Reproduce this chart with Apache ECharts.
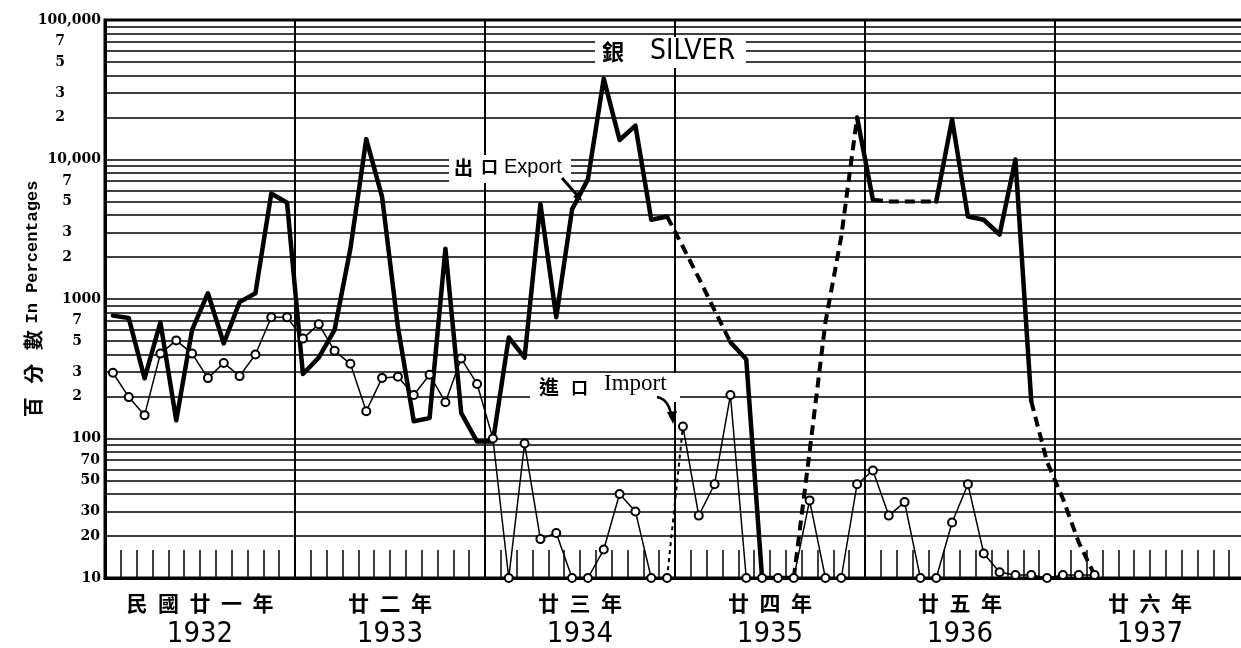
<!DOCTYPE html>
<html>
<head>
<meta charset="utf-8">
<script src="https://cdn.jsdelivr.net/npm/echarts@6/dist/echarts.min.js"></script>
<style>
html, body { margin: 0; padding: 0; background: #fff; }
#chart { width: 1241px; height: 648px; }
</style>
</head>
<body>
<div id="chart"></div>
<script>
const years = ['1932', '1933', '1934', '1935', '1936', '1937']
const yearsZh = ['民國廿一年', '廿二年', '廿三年', '廿四年', '廿五年', '廿六年']
const months = years.flatMap(y => Array.from({ length: 12 }, (item, i) => y + '-' + (i + 1)))

// 出口 Export, one value a month (10 = nothing), null = not drawn
const exportValues = [
	760, 730, 270, 680, 135, 600, 1100, 480, 950, 1100, 5700, 4900,
	290, 380, 600, 2300, 14000, 5400, 630, 133, 140, 2290, 152, 95,
	95, 530, 380, 4800, 740, 4400, 7200, 38000, 13800, 17500, 3700, 3900,
	2370, 1415, 830, 490, 370, 10, 10, 10, 80, 680, 2800, 20000,
	5150, 5000, 5000, 5000, 5000, 19400, 3900, 3700, 2900, 10000, 185, 68,
	37, 18, 10.5, null, null, null, null, null, null, null, null, null
]
// 進口 Import
const importValues = [
	296, 198, 147, 406, 505, 406, 271, 348, 280, 400, 740, 740,
	520, 660, 425, 343, 157, 272, 277, 205, 286, 182, 374, 246,
	100, 10, 92, 19, 21, 10, 10, 16, 40, 30, 10, 10,
	122, 28, 47, 205, 10, 10, 10, 10, 36, 10, 10, 47,
	59, 28, 35, 10, 10, 25, 47, 15, 11, 10.5, 10.5, 10,
	10.5, 10.5, 10.5, null, null, null, null, null, null, null, null, null
]

// month index ranges (inclusive) drawn solid / dashed
const exportSolid = [[0, 35], [39, 43], [47, 48], [52, 58]]
const exportDashed = [[35, 39], [43, 47], [48, 52], [58, 62]]
const importSolid = [[0, 35], [36, 62]]
const importDashed = [[35, 36]]

const yDecadeLabels = ['10', '100', '1000', '10,000', '100,000']
const yMinorLabels = [20, 30, 50, 70, 200, 300, 500, 700, 2000, 3000, 5000, 7000, 20000, 30000, 50000, 70000]
const gridSteps = [2, 3, 4, 5, 6, 7, 8, 9]
const gridValues = [10, 100, 1000, 10000].flatMap(d => gridSteps.map(s => s * d))

const segment = (values, [a, b]) => values.map((v, i) => (i >= a && i <= b ? v : null))

const numFont = 'DejaVu Serif'
const narrowFont = '"DejaVu Sans Condensed", "DejaVu Sans"'
const labelGap = { 10: 5, 100: 23, 1000: 33, 10000: 40 }

const series = []
exportDashed.forEach(r => series.push({
	type: 'line', data: segment(exportValues, r), symbol: 'none', z: 3,
	lineStyle: { color: '#000', width: 4, type: [10, 6], cap: 'butt' }
}))
exportSolid.forEach(r => series.push({
	type: 'line', data: segment(exportValues, r), symbol: 'none', z: 4,
	lineStyle: { color: '#000', width: 4.5, join: 'round', cap: 'round' }
}))
importDashed.forEach(r => series.push({
	type: 'line', data: segment(importValues, r), symbol: 'none', z: 5,
	lineStyle: { color: '#000', width: 2, type: [4, 4] }
}))
importSolid.forEach(r => series.push({
	type: 'line', data: segment(importValues, r), z: 6,
	symbol: 'emptyCircle', symbolSize: 8,
	itemStyle: { color: '#000', borderWidth: 1.5 },
	lineStyle: { color: '#000', width: 1.5 }
}))
// horizontal rulings and the 2 3 5 7 labels
series.push({
	type: 'line', data: [], z: 1,
	markLine: {
		silent: true, symbol: 'none', z: 1, animation: false,
		lineStyle: { color: '#000', width: 1.5, type: 'solid' },
		data: gridValues.map(v => {
			const decade = Math.pow(10, Math.floor(Math.log10(v) + 1e-9))
			const show = yMinorLabels.includes(v)
			return {
				yAxis: v,
				label: show ? {
					show: true, position: 'start', distance: labelGap[decade],
					formatter: v < 100 ? String(v) : String(v / decade),
					color: '#000', fontFamily: numFont, fontWeight: 'bold', fontSize: 14
				} : { show: false }
			}
		})
	}
})

const chart = echarts.init(document.getElementById('chart'))
chart.setOption({
	animation: false,
	backgroundColor: '#fff',
	grid: {
		left: 105, top: 20, right: -4, bottom: 70,
		outerBoundsMode: 'none',
		show: true, borderColor: '#000', borderWidth: 3
	},
	xAxis: [
		{
			type: 'category', data: months, boundaryGap: true,
			axisLine: { show: true, lineStyle: { color: '#000', width: 3 } },
			axisTick: { show: true, interval: 0, inside: true, length: 28, lineStyle: { color: '#000', width: 1.5 } },
			axisLabel: { show: false },
			splitLine: { show: true, interval: (i) => i % 12 === 0, lineStyle: { color: '#000', width: 2 } }
		},
		{
			type: 'category', data: years, boundaryGap: true, position: 'bottom',
			axisLine: { show: false }, axisTick: { show: false }, splitLine: { show: false },
			axisLabel: {
				interval: 0, margin: 10, color: '#000',
				formatter: (v, i) => '{zh|' + yearsZh[i].split('').join('\u2002') + '}\n{en|' + v + '}',
				rich: {
					zh: { fontFamily: 'Noto Sans CJK TC', fontWeight: 'bold', fontSize: 21, lineHeight: 30, color: '#000' },
					en: { fontFamily: narrowFont, fontSize: 29, lineHeight: 32, color: '#000' }
				}
			}
		}
	],
	yAxis: {
		type: 'log', logBase: 10, min: 10, max: 100000,
		name: '{zh|百   分   數}  {en|In Percentages}',
		nameLocation: 'middle', nameRotate: 90, nameGap: 62, nameMoveOverlap: false,
		nameTextStyle: {
			rich: {
				zh: { fontFamily: 'Noto Sans CJK TC', fontWeight: 'bold', fontSize: 20, color: '#000' },
				en: { fontFamily: 'Liberation Mono', fontWeight: 'bold', fontSize: 17, color: '#000' }
			}
		},
		axisLine: { show: true, lineStyle: { color: '#000', width: 3 } },
		axisTick: { show: false },
		axisLabel: {
			margin: 4, color: '#000', fontFamily: numFont, fontWeight: 'bold', fontSize: 14,
			formatter: v => yDecadeLabels[Math.round(Math.log10(v)) - 1] || ''
		},
		splitLine: { show: true, lineStyle: { color: '#000', width: 1.5 } }
	},
	series: series,
	graphic: [
		{ type: 'rect', z: 100, shape: { x: 595, y: 37, width: 151, height: 31 }, style: { fill: '#fff' } },
		{ type: 'text', z: 101, x: 602, y: 41, style: { text: '銀', font: 'bold 22px "Noto Sans CJK TC"', fill: '#000', verticalAlign: 'top' } },
		{ type: 'text', z: 101, x: 650, y: 38, style: { text: 'SILVER', font: '28px ' + narrowFont, fill: '#000', verticalAlign: 'top' } },

		{ type: 'rect', z: 100, shape: { x: 449, y: 155, width: 122, height: 28 }, style: { fill: '#fff' } },
		{ type: 'text', z: 101, x: 454, y: 158, style: { text: '出', font: 'bold 19px "Noto Sans CJK TC"', fill: '#000', verticalAlign: 'top' } },
		{ type: 'text', z: 101, x: 481, y: 158, style: { text: '口', font: 'bold 17px "Noto Sans CJK TC"', fill: '#000', verticalAlign: 'top' } },
		{ type: 'text', z: 101, x: 504, y: 157, style: { text: 'Export', font: '20px "Liberation Sans"', fill: '#000', verticalAlign: 'top' } },
		{ type: 'polyline', z: 101, shape: { points: [[562, 178], [577, 195]] }, style: { stroke: '#000', lineWidth: 3 } },
		{ type: 'polygon', z: 101, shape: { points: [[582, 201], [573, 197], [579, 191]] }, style: { fill: '#000' } },

		{ type: 'rect', z: 100, shape: { x: 530, y: 373, width: 150, height: 29 }, style: { fill: '#fff' } },
		{ type: 'text', z: 101, x: 539, y: 377, style: { text: '進', font: 'bold 20px "Noto Sans CJK TC"', fill: '#000', verticalAlign: 'top' } },
		{ type: 'text', z: 101, x: 571, y: 379, style: { text: '口', font: 'bold 17px "Noto Sans CJK TC"', fill: '#000', verticalAlign: 'top' } },
		{ type: 'text', z: 101, x: 604, y: 372, style: { text: 'Import', font: '23px "Liberation Serif"', fill: '#000', verticalAlign: 'top' } },
		{ type: 'bezierCurve', z: 101, shape: { x1: 657, y1: 397, cpx1: 668, cpy1: 399, x2: 671, y2: 414 }, style: { stroke: '#000', lineWidth: 2.5, fill: null } },
		{ type: 'polygon', z: 101, shape: { points: [[673, 424], [667, 412], [677, 411]] }, style: { fill: '#000' } }
	]
})
</script>
</body>
</html>
